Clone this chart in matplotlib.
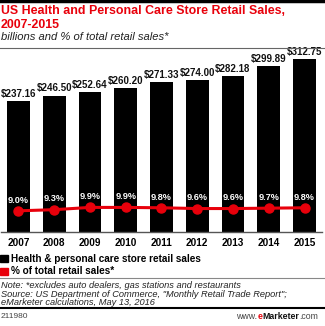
import matplotlib.pyplot as plt
import numpy as np

# US Health and Personal Care Store Retail Sales, 2007-2015 (eMarketer)

years = ['2007', '2008', '2009', '2010', '2011', '2012', '2013', '2014', '2015']
sales_billions = [237.16, 246.50, 252.64, 260.20, 271.33, 274.00, 282.18, 299.89, 312.75]
share_percent = [9.0, 9.3, 9.9, 9.9, 9.8, 9.6, 9.6, 9.7, 9.8]

RED = '#e8000b'
W, H = 325, 326

plt.rcParams['font.family'] = ['Liberation Sans', 'DejaVu Sans']


def fy(y_px):
    # convert pixel row (from top) into figure fraction
    return 1 - y_px / H


def fx(x_px):
    return x_px / W


def plot_chart():
    fig = plt.figure(figsize=(W / 100, H / 100), dpi=100)
    fig.patch.set_facecolor('white')

    # header
    fig.add_artist(plt.Line2D([0, 1], [fy(1), fy(1)], color='black', lw=2.5))
    fig.text(fx(1), fy(11.5), 'US Health and Personal Care Store Retail Sales,', color=RED,
             fontsize=8.9, fontweight='bold', va='center', ha='left')
    fig.text(fx(1), fy(24.5), '2007-2015', color=RED, fontsize=8.9, fontweight='bold', va='center', ha='left')
    fig.text(fx(1), fy(37), 'billions and % of total retail sales*', color='#222222',
             fontsize=8.1, style='italic', va='center', ha='left')
    fig.add_artist(plt.Line2D([0, 1], [fy(47.5), fy(47.5)], color='#666666', lw=0.8))

    # bars
    ax = fig.add_axes([fx(0.6), fy(232), fx(321.8), 182.7 / H])
    x = np.arange(len(years))
    ax.bar(x, sales_billions, width=0.64, color='black', zorder=2)
    for i, v in enumerate(sales_billions):
        ax.annotate(f'${v:.2f}', (x[i], v), textcoords='offset points', xytext=(0, 1.5),
                    ha='center', va='bottom', fontsize=7, fontweight='bold', color='#111111')
    ax.set_xlim(-0.5, len(years) - 0.5)
    ax.set_ylim(0, 330)
    ax.set_yticks([])
    ax.set_xticks(x)
    ax.set_xticklabels(years, fontsize=7.2, fontweight='bold')
    ax.tick_params(axis='x', length=0, pad=4)
    for s in ['top', 'left', 'right']:
        ax.spines[s].set_visible(False)
    ax.spines['bottom'].set_color('#555555')
    ax.spines['bottom'].set_linewidth(1)

    # share of total retail sales on second axis
    ax2 = ax.twinx()
    ax2.plot(x, share_percent, color=RED, lw=2.2, marker='o', markersize=6.5, zorder=3)
    for i, v in enumerate(share_percent):
        ax2.annotate(f'{v:.1f}%', (x[i], v), textcoords='offset points', xytext=(0, 4.5),
                     ha='center', va='bottom', fontsize=6.6, fontweight='bold', color='white')
    ax2.set_ylim(3.4, 51.7)
    ax2.set_yticks([])
    for s in ['top', 'left', 'right', 'bottom']:
        ax2.spines[s].set_visible(False)

    # legend
    fig.add_artist(plt.Rectangle((fx(0), fy(262)), fx(8), 7 / H, color='black'))
    fig.text(fx(11), fy(258.5), 'Health & personal care store retail sales', fontsize=7.2,
             fontweight='bold', va='center', ha='left')
    fig.add_artist(plt.Rectangle((fx(0), fy(275)), fx(8), 7 / H, color=RED))
    fig.text(fx(11), fy(271.5), '% of total retail sales*', fontsize=7.2,
             fontweight='bold', va='center', ha='left')

    # notes
    fig.add_artist(plt.Line2D([0, 1], [fy(277.5), fy(277.5)], color='#888888', lw=0.8))
    notes = ['Note: *excludes auto dealers, gas stations and restaurants',
             'Source: US Department of Commerce, "Monthly Retail Trade Report";',
             'eMarketer calculations, May 13, 2016']
    for i, n in enumerate(notes):
        fig.text(fx(1), fy(285.5 + i * 8.6), n, fontsize=6.7, style='italic', color='#222222',
                 va='center', ha='left')
    fig.add_artist(plt.Line2D([0, 1], [fy(308), fy(308)], color='black', lw=1.5))
    fig.text(fx(1), fy(316.5), '211980', fontsize=6, color='#444444', va='center', ha='left')

    # www.eMarketer.com, pieces placed right to left
    pieces = [('.com', '#444444', 'normal'), ('Marketer', '#111111', 'bold'),
              ('e', RED, 'bold'), ('www.', '#444444', 'normal')]
    renderer = fig.canvas.get_renderer()
    right = fx(318)
    for txt, col, wt in pieces:
        t = fig.text(right, fy(316.5), txt, fontsize=6.3, color=col, fontweight=wt,
                     va='center', ha='right')
        right = t.get_window_extent(renderer=renderer).x0 / fig.bbox.width

    fig.savefig('out.png', dpi=100)


plot_chart()
